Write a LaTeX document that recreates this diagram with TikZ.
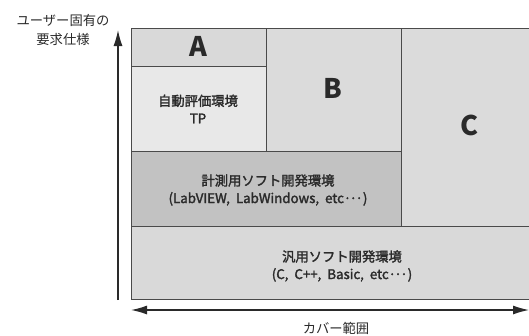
\documentclass[tikz,border=0pt]{standalone}
\usepackage{fontspec}
\setmainfont{Noto Sans CJK JP}
\newfontfamily\jplab[FakeBold=2]{Noto Sans CJK JP}
\usetikzlibrary{arrows.meta}
\definecolor{edge}{HTML}{4A4A4A}
\definecolor{fillA}{HTML}{D9D9D9}
\definecolor{fillT}{HTML}{E8E8E8}
\definecolor{fillB}{HTML}{DBDBDB}
\definecolor{fillM}{HTML}{C2C2C2}
\definecolor{fillG}{HTML}{D9D9D9}
\definecolor{ink}{HTML}{2A2A2A}
\newcommand{\tridot}{\textperiodcentered\kern-0.12em\textperiodcentered\kern-0.12em\textperiodcentered}
\begin{document}
\begin{tikzpicture}[x=1pt,y=-1pt,
  area/.style={draw=edge,line width=0.9pt,inner sep=0pt,anchor=north west},
  biglabel/.style={font=\fontsize{27}{29}\selectfont\bfseries,text=ink},
  boxlabel/.style={font=\jplab\fontsize{13.3}{17.5}\selectfont,text=ink,align=center},
  axislabel/.style={font=\fontsize{13.3}{19.5}\selectfont,text=ink,align=center},
  axis/.style={draw=ink,line width=1.3pt}]
\useasboundingbox (0,0) rectangle (529,335);
% areas
\node[area,fill=fillG,minimum width=400pt,minimum height=73pt] (gen) at (131,226) {};
\node[area,fill=fillB,minimum width=130pt,minimum height=198pt] (c) at (401,28) {};
\node[area,fill=fillM,minimum width=270pt,minimum height=75pt] (meas) at (131,151) {};
\node[area,fill=fillB,minimum width=135pt,minimum height=123pt] (b) at (266,28) {};
\node[area,fill=fillT,minimum width=135pt,minimum height=85pt] (tp) at (131,66) {};
\node[area,fill=fillA,minimum width=135pt,minimum height=38pt] (a) at (131,28) {};
% labels
\node[biglabel] (la) at (198,46) {A};
\node[biglabel] (lb) at (333,88) {B};
\node[biglabel] (lc) at (469,125) {C};
\node[boxlabel] (ltp) at (198,109) {自動評価環境\\TP};
\node[boxlabel] (lmeas) at (268,190) {計測用ソフト開発環境\\(LabVIEW,\ \ LabWindows,\ \ etc\tridot)};
\node[boxlabel] (lgen) at (342,266) {汎用ソフト開発環境\\(C,\ \ C++,\ \ Basic,\ \ etc\tridot)};
% axes
\coordinate (v0) at (118,300);
\coordinate (v1) at (118,30);
\coordinate (h0) at (131,310);
\coordinate (h1) at (529,310);
\draw[axis,-{Latex[length=16pt,width=9pt]}] (v0) -- (v1);
\draw[axis,{Latex[length=16pt,width=9pt]}-{Latex[length=16pt,width=9pt]}] (h0) -- (h1);
\node[axislabel] (ly) at (63,30) {ユーザー固有の\\要求仕様};
\node[axislabel] (lx) at (336,328) {カバー範囲};
\end{tikzpicture}
\end{document}
